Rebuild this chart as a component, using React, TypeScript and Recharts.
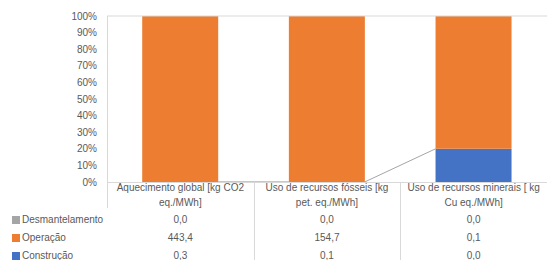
import React from 'react';
import { BarChart, Bar, XAxis, YAxis, ReferenceLine } from 'recharts';

// categories split in two header lines, as in the data table
const categories = [
  ['Aquecimento global [kg CO2', 'eq./MWh]'],
  ['Uso de recursos fósseis [kg', 'pet. eq./MWh]'],
  ['Uso de recursos minerais [ kg', 'Cu eq./MWh]'],
];
const construcao = [0.3, 0.1, 0.02];
const operacao = [443.4, 154.7, 0.08];
const desmantelamento = [0.0, 0.0, 0.0];
const yTicks = [0, 0.1, 0.2, 0.3, 0.4, 0.5, 0.6, 0.7, 0.8, 0.9, 1];

const COLORS = {
  construcao: '#4472C4',
  operacao: '#ED7D31',
  desmantelamento: '#A5A5A5',
};
const TEXT = '#595959';
const LINE = '#D9D9D9';
const FONT = '"Liberation Sans", Arial, sans-serif';

const W = 547;
const H = 260;
const PLOT = { left: 107, top: 16, right: 547, bottom: 182 };
const step = (PLOT.right - PLOT.left) / categories.length;
const plotH = PLOT.bottom - PLOT.top;

const data = categories.map((c, i) => ({
  name: c.join(' '),
  construcao: construcao[i],
  operacao: operacao[i],
  desmantelamento: desmantelamento[i],
}));

const total = (i: number) => construcao[i] + operacao[i] + desmantelamento[i];
const fmt = (v: number) => v.toFixed(1).replace('.', ',');

// bottom segment plus the excel-style series line to the previous column
const ConstrucaoShape = (props: any) => {
  const { x, y, width, height, fill, index } = props;
  let link = null;
  if (index > 0) {
    const prevShare = construcao[index - 1] / total(index - 1);
    link = (
      <line
        x1={x - (step - width)}
        y1={PLOT.bottom - prevShare * plotH}
        x2={x}
        y2={y}
        stroke="#A5A5A5"
        strokeWidth={1}
      />
    );
  }
  return (
    <g>
      <rect x={x} y={y} width={width} height={Math.max(height, 0)} fill={fill} />
      {link}
    </g>
  );
};

const rows = [
  { label: 'Desmantelamento', color: COLORS.desmantelamento, values: desmantelamento },
  { label: 'Operação', color: COLORS.operacao, values: operacao },
  { label: 'Construção', color: COLORS.construcao, values: construcao },
];
const rowY = [220, 238, 256];
const headY = [188, 203];

export default function App() {
  return (
    <div style={{ position: 'relative', width: W, height: H, fontFamily: FONT, background: '#fff' }}>
      <style>{'body{margin:0}'}</style>
      <BarChart
        width={W}
        height={H}
        data={data}
        stackOffset="expand"
        barCategoryGap="24%"
        margin={{ top: PLOT.top, right: W - PLOT.right, bottom: H - PLOT.bottom, left: 0 }}
      >
        <XAxis dataKey="name" hide />
        <YAxis
          width={PLOT.left}
          ticks={yTicks}
          domain={[0, 1]}
          interval={0}
          tickFormatter={(v: number) => `${Math.round(v * 100)}%`}
          tick={{ fontSize: 10, fill: TEXT, fontFamily: FONT }}
          tickLine={false}
          tickMargin={4}
          axisLine={false}
        />
        <ReferenceLine y={1} stroke={LINE} strokeWidth={1} />
        <Bar dataKey="construcao" stackId="a" fill={COLORS.construcao} shape={ConstrucaoShape} isAnimationActive={false} />
        <Bar dataKey="operacao" stackId="a" fill={COLORS.operacao} isAnimationActive={false} />
        <Bar dataKey="desmantelamento" stackId="a" fill={COLORS.desmantelamento} isAnimationActive={false} />
      </BarChart>

      {/* data table lines */}
      <svg width={W} height={H} style={{ position: 'absolute', left: 0, top: 0, pointerEvents: 'none' }}>
        <line x1={PLOT.left + 0.5} y1={PLOT.top} x2={PLOT.left + 0.5} y2={208} stroke={LINE} />
        <line x1={PLOT.left} y1={PLOT.bottom + 0.5} x2={PLOT.right} y2={PLOT.bottom + 0.5} stroke={LINE} />
        {categories.slice(1).map((_, i) => {
          const x = Math.round(PLOT.left + step * (i + 1)) + 0.5;
          return <line key={i} x1={x} y1={PLOT.bottom} x2={x} y2={H} stroke={LINE} />;
        })}
      </svg>

      {categories.map((c, i) =>
        c.map((line, j) => (
          <div
            key={`h${i}-${j}`}
            style={{
              position: 'absolute',
              left: PLOT.left + step * i,
              width: step,
              top: headY[j] - 7,
              height: 14,
              lineHeight: '14px',
              textAlign: 'center',
              fontSize: 10,
              color: TEXT,
              whiteSpace: 'nowrap',
            }}
          >
            {line}
          </div>
        ))
      )}

      {rows.map((r, ri) => (
        <React.Fragment key={r.label}>
          <div
            style={{
              position: 'absolute',
              left: 12,
              top: rowY[ri] - 7,
              height: 14,
              lineHeight: '14px',
              fontSize: 10,
              color: TEXT,
              display: 'flex',
              alignItems: 'center',
            }}
          >
            <span style={{ display: 'inline-block', width: 8, height: 8, background: r.color, marginRight: 2 }} />
            {r.label}
          </div>
          {r.values.map((v, i) => (
            <div
              key={i}
              style={{
                position: 'absolute',
                left: PLOT.left + step * i,
                width: step,
                top: rowY[ri] - 7,
                height: 14,
                lineHeight: '14px',
                textAlign: 'center',
                fontSize: 10,
                color: TEXT,
              }}
            >
              {fmt(v)}
            </div>
          ))}
        </React.Fragment>
      ))}
    </div>
  );
}
